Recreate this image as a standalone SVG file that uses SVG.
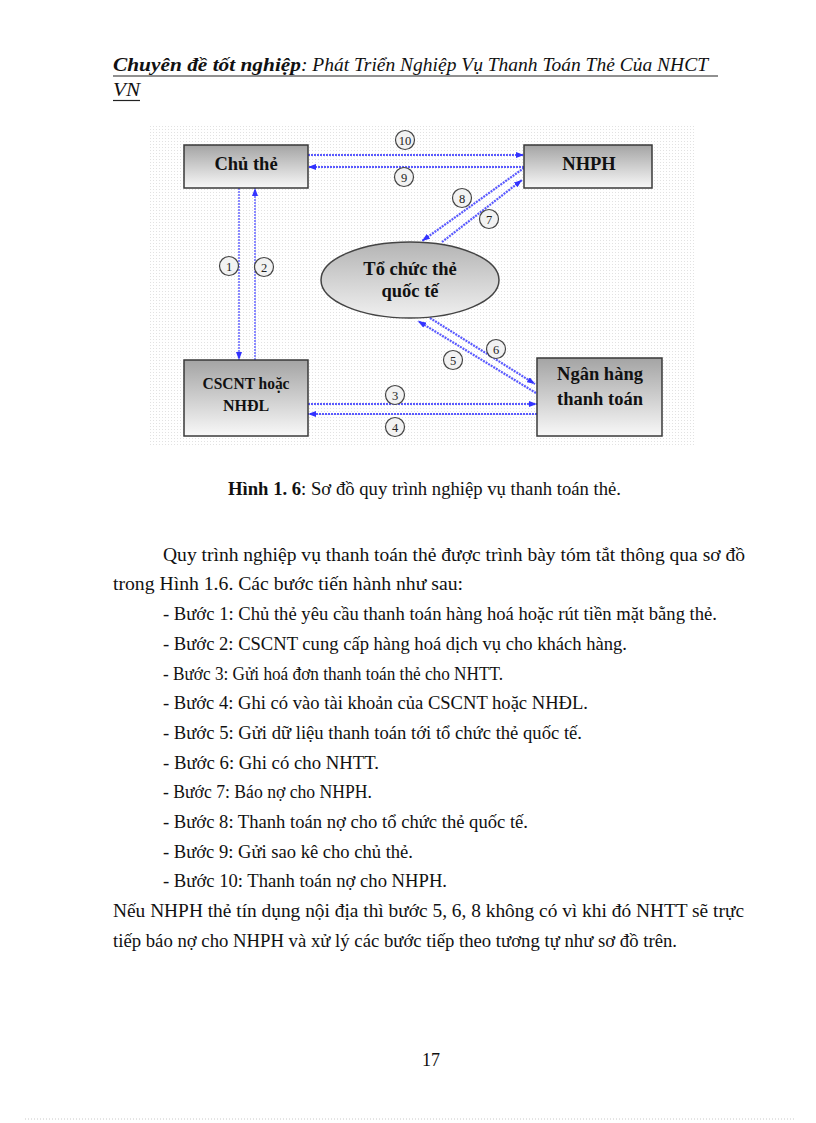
<svg xmlns="http://www.w3.org/2000/svg" width="816" height="1123" viewBox="0 0 816 1123">
<defs>
<style>
.serif{font-family:"Liberation Serif","Times New Roman",serif;fill:#111;}
.body{font-family:"Liberation Serif","Times New Roman",serif;font-size:18px;fill:#111;}
.nodeT{font-family:"Liberation Serif","Times New Roman",serif;font-weight:bold;fill:#111;text-anchor:middle;}
.box{fill:url(#gBox);stroke:#3a3a3a;stroke-width:1.5;}
.conn{fill:none;stroke:#5a5aff;stroke-width:2.2;stroke-dasharray:2 1;}
.connV{fill:none;stroke:#5a5aff;stroke-width:1.4;stroke-dasharray:2 1;}
.num circle{fill:#f2f2f2;stroke:#444;stroke-width:1.2;}
.num text{font-family:"Liberation Serif","Times New Roman",serif;font-size:12.5px;fill:#222;text-anchor:middle;}
</style>
<linearGradient id="gBox" x1="0" y1="0" x2="0" y2="1">
<stop offset="0" stop-color="#a4a4a4"/>
<stop offset="1" stop-color="#f8f8f8"/>
</linearGradient>
<linearGradient id="gEll" x1="0" y1="0" x2="0" y2="1">
<stop offset="0" stop-color="#b4b4b4"/>
<stop offset="1" stop-color="#f0f0f0"/>
</linearGradient>
<pattern id="dots" width="3" height="3" patternUnits="userSpaceOnUse">
<rect x="0" y="0" width="1" height="1" fill="#e2e2e2"/>
</pattern>
<marker id="ah" viewBox="0 0 8 6" refX="8" refY="3" markerWidth="8" markerHeight="6" markerUnits="userSpaceOnUse" orient="auto">
<path d="M0,0 L8,3 L0,6 z" fill="#3333ff"/>
</marker>
</defs>
<rect width="816" height="1123" fill="#ffffff"/>

<g id="header">
<text class="serif" x="113" y="71" font-size="19" font-weight="bold" font-style="italic" textLength="188" lengthAdjust="spacingAndGlyphs">Chuyên đề tốt nghiệp</text>
<text class="serif" x="301" y="71" font-size="19" font-style="italic" textLength="407" lengthAdjust="spacingAndGlyphs">: Phát Triển Nghiệp Vụ Thanh Toán Thẻ Của NHCT</text>
<line x1="113" y1="76" x2="718" y2="76" stroke="#222" stroke-width="1.2"/>
<text class="serif" x="113" y="96" font-size="19" font-style="italic" textLength="27" lengthAdjust="spacingAndGlyphs">VN</text>
<line x1="113" y1="100.5" x2="140" y2="100.5" stroke="#222" stroke-width="1.2"/>
</g>

<rect id="diagram-bg" x="150" y="125" width="545" height="322" fill="url(#dots)"/>

<g id="connectors">
<line class="conn" x1="308" y1="155" x2="524" y2="155" marker-end="url(#ah)"/>
<line class="conn" x1="524" y1="167" x2="308" y2="167" marker-end="url(#ah)"/>
<line class="connV" x1="239" y1="188" x2="239" y2="360" marker-end="url(#ah)"/>
<line class="connV" x1="255" y1="360" x2="255" y2="188" marker-end="url(#ah)"/>
<line class="conn" x1="524" y1="168" x2="422" y2="241" marker-end="url(#ah)"/>
<line class="conn" x1="442" y1="242" x2="522" y2="180" marker-end="url(#ah)"/>
<line class="conn" x1="430" y1="318" x2="535" y2="384" marker-end="url(#ah)"/>
<line class="conn" x1="536" y1="393" x2="418" y2="321" marker-end="url(#ah)"/>
<line class="conn" x1="308" y1="404" x2="537" y2="404" marker-end="url(#ah)"/>
<line class="conn" x1="537" y1="414" x2="308" y2="414" marker-end="url(#ah)"/>
</g>

<g id="labels">
<g class="num"><circle cx="405" cy="140" r="9.5"/><text x="405" y="144.5">10</text></g>
<g class="num"><circle cx="404" cy="177" r="9.5"/><text x="404" y="181.5">9</text></g>
<g class="num"><circle cx="229" cy="266" r="9.5"/><text x="229" y="270.5">1</text></g>
<g class="num"><circle cx="264" cy="267" r="9.5"/><text x="264" y="271.5">2</text></g>
<g class="num"><circle cx="462" cy="198" r="9.5"/><text x="462" y="202.5">8</text></g>
<g class="num"><circle cx="489" cy="219" r="9.5"/><text x="489" y="223.5">7</text></g>
<g class="num"><circle cx="496" cy="349" r="9.5"/><text x="496" y="353.5">6</text></g>
<g class="num"><circle cx="453" cy="360" r="9.5"/><text x="453" y="364.5">5</text></g>
<g class="num"><circle cx="395" cy="395" r="9.5"/><text x="395" y="399.5">3</text></g>
<g class="num"><circle cx="395" cy="427" r="9.5"/><text x="395" y="431.5">4</text></g>
</g>

<g id="node-chuthe">
<rect class="box" x="184" y="145" width="124" height="43"/>
<text class="nodeT" x="246" y="170" font-size="18.5">Chủ thẻ</text>
</g>
<g id="node-nhph">
<rect class="box" x="524" y="145" width="128" height="43"/>
<text class="nodeT" x="589" y="170" font-size="18.5">NHPH</text>
</g>
<g id="node-tochuc">
<ellipse cx="410" cy="280" rx="89" ry="38" fill="url(#gEll)" stroke="#444" stroke-width="1.5"/>
<text class="nodeT" x="410" y="275" font-size="18.5">Tổ chức thẻ</text>
<text class="nodeT" x="410" y="297" font-size="18.5">quốc tế</text>
</g>
<g id="node-cscnt">
<rect class="box" x="184" y="360" width="124" height="76"/>
<text class="nodeT" x="246" y="389" font-size="16" textLength="87" lengthAdjust="spacingAndGlyphs">CSCNT hoặc</text>
<text class="nodeT" x="246" y="411" font-size="16">NHĐL</text>
</g>
<g id="node-nhtt">
<rect class="box" x="537" y="358" width="125" height="78"/>
<text class="nodeT" x="600" y="380" font-size="18.5">Ngân hàng</text>
<text class="nodeT" x="600" y="405" font-size="18.5">thanh toán</text>
</g>

<g id="caption">
<text class="body" x="228" y="495" textLength="393" lengthAdjust="spacingAndGlyphs"><tspan font-weight="bold">Hình 1. 6</tspan>: Sơ đồ quy trình nghiệp vụ thanh toán thẻ.</text>
</g>

<g id="body-text">
<text class="body" x="163" y="561" textLength="582" lengthAdjust="spacingAndGlyphs">Quy trình nghiệp vụ thanh toán thẻ được trình bày tóm tắt thông qua sơ đồ</text>
<text class="body" x="113" y="590" textLength="350" lengthAdjust="spacingAndGlyphs">trong Hình 1.6. Các bước tiến hành như sau:</text>
<text class="body" x="163" y="620" textLength="554" lengthAdjust="spacingAndGlyphs">- Bước 1: Chủ thẻ yêu cầu thanh toán hàng hoá hoặc rút tiền mặt bằng thẻ.</text>
<text class="body" x="163" y="650" textLength="464" lengthAdjust="spacingAndGlyphs">- Bước 2: CSCNT cung cấp hàng hoá dịch vụ cho khách hàng.</text>
<text class="body" x="163" y="680" textLength="340" lengthAdjust="spacingAndGlyphs">- Bước 3: Gửi hoá đơn thanh toán thẻ cho NHTT.</text>
<text class="body" x="163" y="709" textLength="425" lengthAdjust="spacingAndGlyphs">- Bước 4: Ghi có vào tài khoản của CSCNT hoặc NHĐL.</text>
<text class="body" x="163" y="739" textLength="419" lengthAdjust="spacingAndGlyphs">- Bước 5: Gửi dữ liệu thanh toán tới tổ chức thẻ quốc tế.</text>
<text class="body" x="163" y="769" textLength="216" lengthAdjust="spacingAndGlyphs">- Bước 6: Ghi có cho NHTT.</text>
<text class="body" x="163" y="798" textLength="209" lengthAdjust="spacingAndGlyphs">- Bước 7: Báo nợ cho NHPH.</text>
<text class="body" x="163" y="828" textLength="365" lengthAdjust="spacingAndGlyphs">- Bước 8: Thanh toán nợ cho tổ chức thẻ quốc tế.</text>
<text class="body" x="163" y="858" textLength="250" lengthAdjust="spacingAndGlyphs">- Bước 9: Gửi sao kê cho chủ thẻ.</text>
<text class="body" x="163" y="887" textLength="284" lengthAdjust="spacingAndGlyphs">- Bước 10: Thanh toán nợ cho NHPH.</text>
<text class="body" x="113" y="917" textLength="631" lengthAdjust="spacingAndGlyphs">Nếu NHPH thẻ tín dụng nội địa thì bước 5, 6, 8 không có vì khi đó NHTT sẽ trực</text>
<text class="body" x="113" y="947" textLength="564" lengthAdjust="spacingAndGlyphs">tiếp báo nợ cho NHPH và xử lý các bước tiếp theo tương tự như sơ đồ trên.</text>
</g>

<g id="footer">
<text class="body" x="431" y="1066" text-anchor="middle">17</text>
<line x1="25" y1="1119" x2="795" y2="1119" stroke="#c8c8c8" stroke-width="1" stroke-dasharray="1 2"/>
</g>
</svg>
